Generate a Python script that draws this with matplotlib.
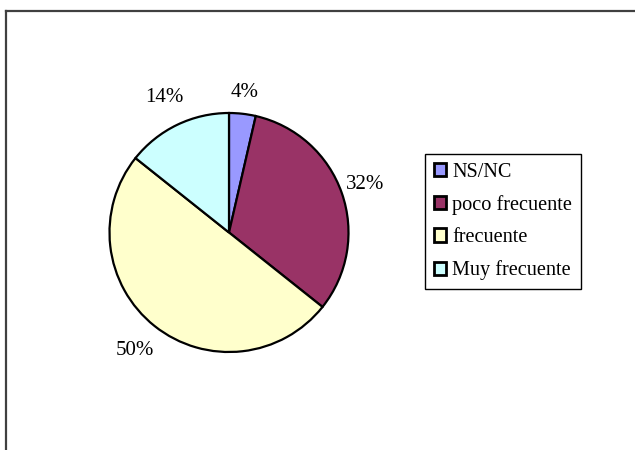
import numpy as np
import matplotlib.pyplot as plt
from matplotlib.patches import Patch
from matplotlib.lines import Line2D

# Datos
categorias = ["NS/NC", "poco frecuente", "frecuente", "Muy frecuente"]
valores = [3.6, 32.1, 50.0, 14.3]
colores = ["#9999FF", "#993366", "#FFFFCC", "#CCFFFF"]

# distancia de cada etiqueta al centro (en radios)
dist_etiquetas = [1.18, 1.21, 1.26, 1.25]

plt.rcParams["font.family"] = ["Liberation Serif", "DejaVu Serif"]

fig = plt.figure(figsize=(6.35, 4.5), dpi=100)

# marco del área del gráfico (solo se ve el borde superior e izquierdo)
fig.add_artist(Line2D([6 / 635, 1.0], [1 - 11 / 450, 1 - 11 / 450],
                      transform=fig.transFigure, color="#404040", lw=1.6))
fig.add_artist(Line2D([6 / 635, 6 / 635], [0.0, 1 - 11 / 450],
                      transform=fig.transFigure, color="#404040", lw=1.6))

# ejes del pastel: centro (229, 232.5), radio ~119.5 px
cx, cy, r = 229, 232.5, 119.5
ax = fig.add_axes([(cx - r) / 635, (450 - cy - r) / 450, 2 * r / 635, 2 * r / 450])

wedges, textos, autotextos = ax.pie(
    valores,
    colors=colores,
    startangle=90,
    counterclock=False,
    autopct="%1.0f%%",
    pctdistance=1.2,
    wedgeprops=dict(edgecolor="black", linewidth=1.6),
    textprops=dict(fontsize=15, color="black"),
)
ax.set_xlim(-1, 1)
ax.set_ylim(-1, 1)
ax.set_aspect("auto")

for w, t, d in zip(wedges, autotextos, dist_etiquetas):
    ang = np.deg2rad((w.theta1 + w.theta2) / 2)
    t.set_position((d * np.cos(ang), d * np.sin(ang)))
    t.set_ha("center")
    t.set_va("center")
    t.set_clip_on(False)

# leyenda
manejadores = [Patch(facecolor=c, edgecolor="black", linewidth=2.0) for c in colores]
leg = fig.legend(
    manejadores, categorias,
    loc="upper left",
    bbox_to_anchor=(425 / 635, 1 - 154 / 450),
    fontsize=14.6,
    handlelength=0.62,
    handleheight=0.62,
    handletextpad=0.3,
    labelspacing=0.66,
    borderpad=0.42,
    borderaxespad=0,
    fancybox=False,
    shadow=False,
    framealpha=1,
)
leg.get_frame().set_edgecolor("black")
leg.get_frame().set_linewidth(1.0)

plt.savefig("out.png", dpi=100)
